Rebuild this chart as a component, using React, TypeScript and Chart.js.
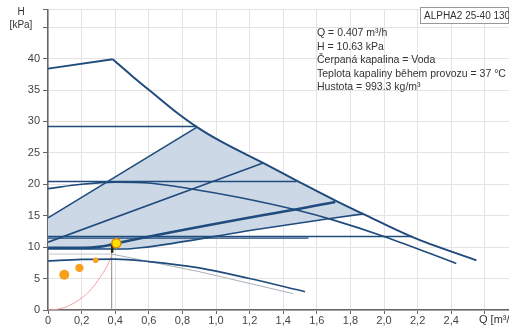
import React, { useEffect, useRef } from 'react';
import { Chart, registerables } from 'chart.js';

Chart.register(...registerables);

// ---- axes ----
const X_MAX = 2.744;
const Y_MAX = 47.8;
const xTickValues = [0, 0.2, 0.4, 0.6, 0.8, 1.0, 1.2, 1.4, 1.6, 1.8, 2.0, 2.2, 2.4, 2.6];
const xTickLabels = ['0', '0,2', '0,4', '0,6', '0,8', '1,0', '1,2', '1,4', '1,6', '1,8', '2,0', '2,2', '2,4', ''];
const yTickValues = [0, 5, 10, 15, 20, 25, 30, 35, 40, 45];
const yTickLabels = ['0', '5', '10', '15', '20', '25', '30', '35', '40', ''];

const xTitle = 'Q [m³/h]';
const yTitle1 = 'H';
const yTitle2 = '[kPa]';
const pumpName = 'ALPHA2 25-40 130';
const infoLines = [
  'Q = 0.407 m³/h',
  'H = 10.63 kPa',
  'Čerpaná kapalina = Voda',
  'Teplota kapaliny během provozu = 37 °C',
  'Hustota = 993.3 kg/m³',
];

// ---- curves (Q in m³/h, H in kPa) ----
const maxTopQ = [0, 0.385];
const maxTopH = [38.4, 39.9];
const maxCurveQ = [0.385, 0.5, 0.636, 0.76, 0.887, 1.024, 1.28, 1.48, 1.72, 1.875, 2.17, 2.55];
const maxCurveH = [39.9, 37.25, 34.25, 31.55, 29.1, 26.9, 23.4, 20.6, 17.3, 15.3, 11.6, 7.9];

const cp3Q = [0, 0.887];
const cp3H = [29.2, 29.2];
const cp2Q = [0, 1.48];
const cp2H = [20.45, 20.45];
const cp1Q = [0, 2.17];
const cp1H = [11.7, 11.7];
const cp1bQ = [0, 1.55];
const cp1bH = [11.45, 11.45];

const pp3Q = [0, 0.887];
const pp3H = [14.65, 29.1];
const pp2Q = [0, 1.28];
const pp2H = [10.8, 23.4];
const autoQ = [0, 0.22, 0.3, 0.36, 0.407, 1.71];
const autoH = [9.9, 9.9, 10.05, 10.3, 10.6, 17.2];
const pp1Q = [0, 0.45, 0.55, 1.26, 1.875];
const pp1H = [9.7, 9.7, 9.9, 12.9, 15.3];

const speed2Q = [0, 0.2, 0.4, 0.6, 0.845, 1.14, 1.48, 1.7, 2.0, 2.43];
const speed2H = [19.3, 20.0, 20.35, 20.2, 19.3, 17.9, 15.9, 14.3, 11.7, 7.4];
const speed1Q = [0, 0.2, 0.4, 0.6, 0.9, 1.2, 1.53];
const speed1H = [7.8, 8.05, 8.1, 7.7, 6.7, 5.0, 2.9];

const actualQ = [0.38, 0.9, 1.46];
const actualH = [8.9, 6.1, 2.6];

const systemQ = [0, 0.05, 0.11, 0.16, 0.21, 0.26, 0.31, 0.35, 0.38];
const systemH = [0, 0.1, 0.5, 1.2, 2.1, 3.4, 5.2, 6.9, 8.7];

const guideVQ = [0.379, 0.379];
const guideVH = [0, 10.4];
const guideHQ = [0, 0.379];
const guideHH = [8.9, 8.9];
const markQ = [0.382, 0.382];
const markH = [9.1, 10.4];

// shaded AUTOadapt area
const areaUpperQ = [0, 0.887, 1.024, 1.28, 1.48, 1.72, 1.875];
const areaUpperH = [14.65, 29.1, 26.9, 23.4, 20.6, 17.3, 15.3];
const areaLowerQ = [0, 0.45, 0.55, 1.26, 1.875];
const areaLowerH = [9.7, 9.7, 9.9, 12.9, 15.3];

const dotsQ = [0.097, 0.187, 0.284];
const dotsH = [5.6, 6.7, 7.9];
const dotsR = [5, 4.2, 2.8];

const dutyQ = [0.407];
const dutyH = [10.63];

// ---- styles ----
const BLUE = '#1f4b7d';
const FILL = '#cdd8e6';
const FONT = '"Liberation Sans", Arial, sans-serif';

const pts = (qs: number[], hs: number[]) => qs.map((q, i) => ({ x: q, y: hs[i] }));

const line = (qs: number[], hs: number[], extra: any = {}) => ({
  data: pts(qs, hs),
  borderColor: BLUE,
  borderWidth: 1.6,
  pointRadius: 0,
  fill: false,
  tension: 0,
  ...extra,
});

const textPlugin = {
  id: 'texts',
  afterDraw(chart: any) {
    const ctx = chart.ctx;
    ctx.save();
    ctx.fillStyle = '#333';
    ctx.textBaseline = 'middle';
    ctx.font = `10px ${FONT}`;
    ctx.textAlign = 'center';
    ctx.fillText(yTitle1, 21, 12);
    ctx.fillText(yTitle2, 21, 25);
    ctx.font = `11px ${FONT}`;
    ctx.textAlign = 'left';
    ctx.fillText(xTitle, 479, 320);
    // info block
    ctx.font = `10.5px ${FONT}`;
    infoLines.forEach((t, i) => ctx.fillText(t, 317, 33.5 + i * 13.5));
    // pump name box
    ctx.fillStyle = '#fff';
    ctx.fillRect(420.5, 7.5, 88, 16);
    ctx.strokeStyle = '#999';
    ctx.lineWidth = 1;
    ctx.strokeRect(420.5, 7.5, 88, 16);
    ctx.fillStyle = '#333';
    ctx.font = `10px ${FONT}`;
    ctx.fillText(pumpName, 424, 16);
    ctx.restore();
  },
};

export default function App() {
  const ref = useRef<HTMLCanvasElement | null>(null);

  useEffect(() => {
    if (!ref.current) return;
    const chart = new Chart(ref.current, {
      type: 'line',
      data: {
        datasets: [
          {
            data: pts(dutyQ, dutyH),
            showLine: false,
            pointRadius: 4.5,
            pointBackgroundColor: '#ffe100',
            pointBorderColor: '#e58a00',
            pointBorderWidth: 1.5,
          },
          {
            data: pts(dotsQ, dotsH),
            showLine: false,
            pointRadius: dotsR,
            pointBackgroundColor: '#f7a11c',
            pointBorderColor: '#f7a11c',
            pointBorderWidth: 0,
          },
          line(markQ, markH, { borderColor: '#2e2b12', borderWidth: 2.5 }),
          line(autoQ, autoH, { borderWidth: 2.6, cubicInterpolationMode: 'monotone' }),
          line(maxTopQ, maxTopH, { borderWidth: 1.8 }),
          line(maxCurveQ, maxCurveH, { borderWidth: 2, cubicInterpolationMode: 'monotone' }),
          line(cp3Q, cp3H),
          line(cp2Q, cp2H),
          line(cp1Q, cp1H),
          line(cp1bQ, cp1bH, { borderWidth: 1.2 }),
          line(pp3Q, pp3H),
          line(pp2Q, pp2H),
          line(pp1Q, pp1H, { cubicInterpolationMode: 'monotone' }),
          line(speed2Q, speed2H, { cubicInterpolationMode: 'monotone' }),
          line(speed1Q, speed1H, { cubicInterpolationMode: 'monotone' }),
          line(actualQ, actualH, { borderColor: '#a9b0b8', borderWidth: 1 }),
          line(systemQ, systemH, { borderColor: '#f2a0a0', borderWidth: 1, cubicInterpolationMode: 'monotone' }),
          line(guideVQ, guideVH, { borderColor: '#8a8a8a', borderWidth: 1 }),
          line(guideHQ, guideHH, { borderColor: '#c4c4c4', borderWidth: 1 }),
          line(areaUpperQ, areaUpperH, { borderWidth: 0, borderColor: 'rgba(0,0,0,0)', backgroundColor: FILL, fill: '+1' }),
          line(areaLowerQ, areaLowerH, { borderWidth: 0, borderColor: 'rgba(0,0,0,0)', cubicInterpolationMode: 'monotone' }),
        ] as any,
      },
      options: {
        responsive: false,
        animation: false,
        devicePixelRatio: 1,
        layout: { autoPadding: false, padding: { top: 7, left: 0, right: 0, bottom: 0 } },
        plugins: {
          legend: { display: false },
          tooltip: { enabled: false },
          filler: { propagate: false, drawTime: 'beforeDatasetsDraw' },
        } as any,
        scales: {
          x: {
            type: 'linear',
            min: 0,
            max: X_MAX,
            afterBuildTicks: (scale: any) => {
              scale.ticks = xTickValues.concat([X_MAX]).map((v) => ({ value: v }));
            },
            afterFit: (scale: any) => {
              scale.height = 17;
            },
            ticks: {
              autoSkip: false,
              maxRotation: 0,
              minRotation: 0,
              padding: 0,
              color: '#444',
              font: { family: FONT, size: 11 },
              callback: (_v: any, i: number) => xTickLabels[i] ?? '',
            },
            grid: { color: '#e3e3e3', tickColor: '#666', tickLength: 4, lineWidth: 1 },
            border: { color: '#666', width: 1.5 },
          },
          y: {
            type: 'linear',
            min: 0,
            max: Y_MAX,
            afterBuildTicks: (scale: any) => {
              scale.ticks = yTickValues.concat([Y_MAX]).map((v) => ({ value: v }));
            },
            afterFit: (scale: any) => {
              scale.width = 48;
            },
            ticks: {
              autoSkip: false,
              padding: 3,
              color: '#444',
              font: { family: FONT, size: 11 },
              callback: (_v: any, i: number) => yTickLabels[i] ?? '',
            },
            grid: { color: '#e3e3e3', tickColor: '#666', tickLength: 5, lineWidth: 1 },
            border: { color: '#666', width: 1.5 },
          },
        },
      } as any,
      plugins: [textPlugin],
    });
    return () => chart.destroy();
  }, []);

  return (
    <div style={{ position: 'absolute', left: 0, top: 0, width: 509, height: 327, background: '#fff' }}>
      <canvas ref={ref} width={509} height={327} />
    </div>
  );
}
